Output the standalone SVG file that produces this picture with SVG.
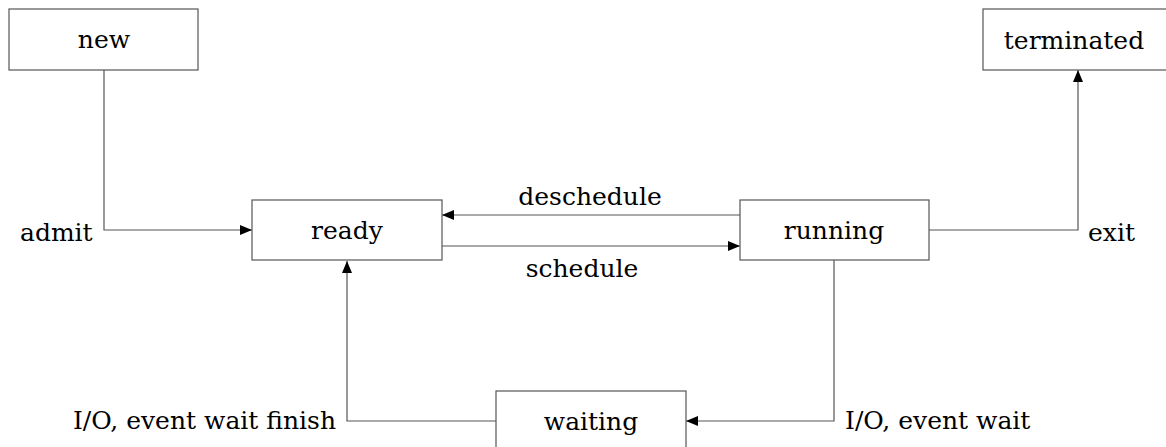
<svg xmlns="http://www.w3.org/2000/svg" width="1166" height="447" viewBox="0 0 1166 447">
<style>
.box{fill:#fff;stroke:#555;stroke-width:1.2}
.t{font-family:"DejaVu Serif","Liberation Serif",serif;font-size:25px;fill:#000}
.c{text-anchor:middle}
.e{text-anchor:end}
.ln{fill:none;stroke:#555;stroke-width:1.2}
</style>
<defs>
<marker id="ah" markerWidth="12" markerHeight="10" refX="12" refY="5" orient="auto" markerUnits="userSpaceOnUse">
<path d="M0,0 L12,5 L0,10 Z" fill="#000"/>
</marker>
</defs>
<g id="connectors">
<path class="ln" d="M104,70 V230 H252" marker-end="url(#ah)"/>
<path class="ln" d="M740,215 H442" marker-end="url(#ah)"/>
<path class="ln" d="M442,246 H740" marker-end="url(#ah)"/>
<path class="ln" d="M929,230 H1078 V70" marker-end="url(#ah)"/>
<path class="ln" d="M834,260 V421 H686" marker-end="url(#ah)"/>
<path class="ln" d="M496,421 H347 V261" marker-end="url(#ah)"/>
<text class="t" x="20" y="241">admit</text>
<text class="t c" x="590" y="205">deschedule</text>
<text class="t c" x="582" y="277">schedule</text>
<text class="t" x="1088" y="241">exit</text>
<text class="t e" x="336" y="429">I/O, event wait finish</text>
<text class="t" x="845" y="429">I/O, event wait</text>
</g>
<g id="new"><rect class="box" x="9" y="9" width="189" height="61"/><text class="t c" x="104" y="48">new</text></g>
<g id="terminated"><rect class="box" x="983" y="9" width="190" height="61"/><text class="t c" x="1074" y="49">terminated</text></g>
<g id="ready"><rect class="box" x="252" y="200" width="190" height="60"/><text class="t c" x="347" y="239">ready</text></g>
<g id="running"><rect class="box" x="740" y="200" width="189" height="60"/><text class="t c" x="834" y="239">running</text></g>
<g id="waiting"><rect class="box" x="496" y="391" width="190" height="70"/><text class="t c" x="591" y="430">waiting</text></g>
</svg>
